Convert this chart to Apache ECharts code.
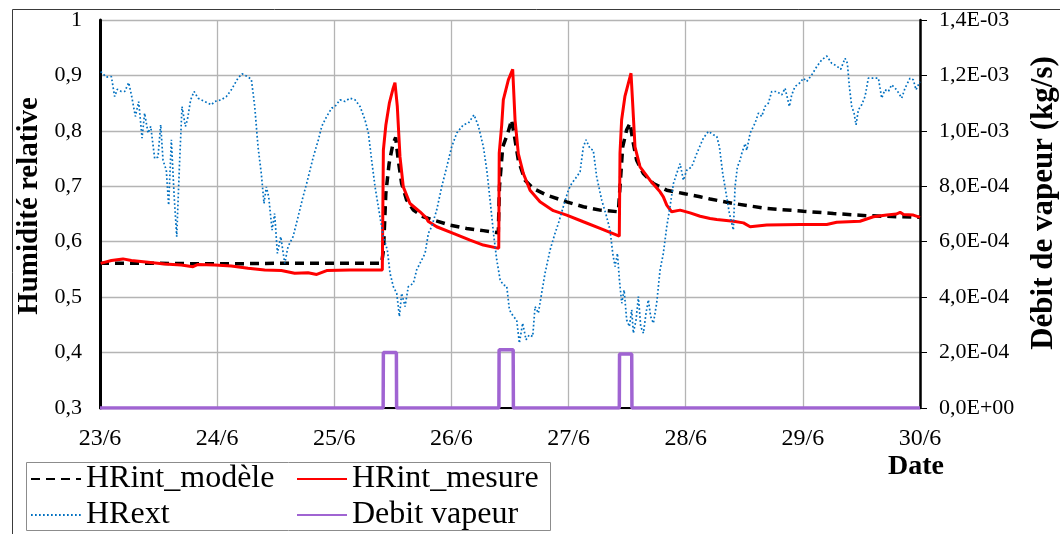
<!DOCTYPE html>
<html>
<head>
<meta charset="utf-8">
<script src="https://cdn.jsdelivr.net/npm/echarts@6/dist/echarts.min.js"></script>
<style>
html,body{margin:0;padding:0;background:#fff;}
#chart{width:1060px;height:534px;}
</style>
</head>
<body>
<div id="chart"></div>
<script>
// x values are days since 23/6 (0 = 23/6, 7 = 30/6)
const dayLabels = ['23/6','24/6','25/6','26/6','27/6','28/6','29/6','30/6'];
const seriesNames = ['HRint_modèle','HRint_mesure','HRext','Debit vapeur'];

const hrextDays = [0.006,0.054,0.097,0.125,0.148,0.182,0.211,0.245,0.268,0.302,0.330,0.359,0.381,0.410,0.433,0.467,0.495,0.518,0.538,0.566,0.586,0.609,0.632,0.655,0.680,0.700,0.729,0.746,0.774,0.803,0.837,0.894,0.951,0.979,1.036,1.079,1.121,1.178,1.213,1.250,1.292,1.321,1.349,1.377,1.400,1.420,1.440,1.469,1.491,1.514,1.543,1.577,1.605,1.648,1.691,1.733,1.764,1.821,1.864,1.893,1.935,1.978,2.006,2.049,2.091,2.134,2.177,2.220,2.262,2.291,2.319,2.348,2.390,2.419,2.453,2.476,2.504,2.533,2.556,2.575,2.604,2.632,2.675,2.703,2.746,2.775,2.803,2.831,2.874,2.917,2.960,3.002,3.045,3.102,3.145,3.193,3.231,3.273,3.302,3.330,3.359,3.387,3.416,3.443,3.472,3.495,3.529,3.557,3.580,3.608,3.637,3.665,3.694,3.714,3.742,3.770,3.799,3.842,3.884,3.913,3.955,3.998,4.026,4.069,4.098,4.126,4.149,4.183,4.211,4.240,4.283,4.325,4.354,4.377,4.397,4.417,4.434,4.454,4.474,4.496,4.519,4.539,4.553,4.576,4.596,4.616,4.639,4.661,4.681,4.701,4.724,4.752,4.781,4.809,4.838,4.866,4.895,4.923,4.952,4.980,5.009,5.051,5.094,5.151,5.194,5.236,5.265,5.288,5.316,5.345,5.373,5.407,5.421,5.441,5.464,5.478,5.507,5.521,5.550,5.592,5.621,5.649,5.677,5.706,5.734,5.777,5.820,5.848,5.885,5.905,5.933,5.971,6.005,6.033,6.076,6.119,6.161,6.204,6.246,6.289,6.323,6.360,6.380,6.397,6.417,6.437,6.454,6.474,6.502,6.531,6.559,6.602,6.645,6.673,6.701,6.730,6.758,6.801,6.844,6.872,6.915,6.943,6.966,6.986,7.0];
const hrextValues = [0.907,0.897,0.898,0.862,0.875,0.871,0.871,0.887,0.865,0.826,0.853,0.787,0.832,0.796,0.808,0.750,0.753,0.811,0.747,0.729,0.666,0.784,0.687,0.609,0.747,0.844,0.808,0.820,0.856,0.871,0.859,0.853,0.847,0.853,0.856,0.862,0.874,0.895,0.903,0.899,0.893,0.844,0.771,0.723,0.669,0.699,0.681,0.621,0.651,0.579,0.609,0.561,0.591,0.609,0.645,0.681,0.705,0.753,0.784,0.808,0.826,0.841,0.844,0.856,0.853,0.859,0.856,0.844,0.820,0.796,0.747,0.699,0.645,0.609,0.585,0.543,0.519,0.507,0.465,0.507,0.483,0.519,0.525,0.549,0.567,0.579,0.615,0.627,0.657,0.699,0.735,0.771,0.796,0.811,0.814,0.829,0.808,0.771,0.729,0.675,0.615,0.567,0.531,0.522,0.520,0.477,0.465,0.459,0.417,0.453,0.423,0.432,0.429,0.483,0.471,0.507,0.543,0.585,0.615,0.633,0.663,0.693,0.705,0.717,0.726,0.771,0.784,0.768,0.765,0.717,0.675,0.645,0.621,0.579,0.555,0.579,0.531,0.489,0.513,0.459,0.447,0.477,0.435,0.459,0.501,0.447,0.435,0.471,0.495,0.465,0.453,0.489,0.549,0.579,0.627,0.663,0.705,0.723,0.741,0.711,0.729,0.735,0.759,0.787,0.799,0.793,0.790,0.771,0.723,0.687,0.651,0.621,0.699,0.735,0.747,0.759,0.777,0.765,0.796,0.814,0.832,0.826,0.844,0.850,0.871,0.871,0.865,0.877,0.844,0.865,0.880,0.886,0.895,0.889,0.901,0.916,0.928,0.935,0.922,0.917,0.911,0.931,0.922,0.880,0.844,0.832,0.811,0.838,0.847,0.862,0.895,0.895,0.895,0.859,0.874,0.871,0.883,0.874,0.859,0.877,0.895,0.892,0.874,0.883,0.889];

const mesureDays = [0.006,0.097,0.196,0.268,0.410,0.552,0.694,0.794,0.837,0.979,1.121,1.264,1.406,1.548,1.662,1.776,1.850,1.935,2.134,2.410,2.419,2.440,2.470,2.500,2.518,2.538,2.561,2.589,2.646,2.732,2.789,2.800,2.874,3.016,3.159,3.272,3.404,3.408,3.429,3.443,3.486,3.523,3.543,3.571,3.614,3.671,3.756,3.870,3.984,4.126,4.269,4.433,4.439,4.453,4.481,4.533,4.547,4.567,4.610,4.695,4.781,4.809,4.838,4.880,4.952,5.037,5.123,5.208,5.265,5.407,5.493,5.550,5.692,5.977,6.204,6.289,6.488,6.602,6.716,6.800,6.830,6.860,6.943,7.0];
const mesureValues = [0.561,0.566,0.569,0.566,0.563,0.560,0.558,0.555,0.559,0.558,0.556,0.552,0.549,0.548,0.543,0.544,0.541,0.548,0.549,0.549,0.765,0.810,0.850,0.875,0.887,0.844,0.753,0.699,0.669,0.654,0.642,0.637,0.627,0.615,0.603,0.594,0.588,0.760,0.810,0.856,0.892,0.911,0.820,0.759,0.723,0.693,0.672,0.656,0.648,0.636,0.624,0.610,0.760,0.820,0.862,0.904,0.850,0.771,0.735,0.711,0.690,0.681,0.666,0.654,0.657,0.652,0.646,0.642,0.640,0.637,0.634,0.627,0.630,0.631,0.631,0.635,0.637,0.645,0.648,0.650,0.653,0.649,0.648,0.644];

const modeleDays = [0,0.5,1.0,1.5,2.0,2.404,2.420,2.440,2.468,2.501,2.524,2.546,2.575,2.618,2.675,2.760,2.846,2.988,3.130,3.272,3.400,3.410,3.438,3.480,3.514,3.543,3.571,3.628,3.699,3.813,3.984,4.126,4.269,4.425,4.439,4.462,4.496,4.525,4.547,4.581,4.638,4.724,4.838,4.980,5.123,5.208,5.407,5.692,6.005,6.261,6.545,6.830,7.0];
const modeleValues = [0.561,0.561,0.560,0.561,0.561,0.561,0.585,0.687,0.741,0.777,0.788,0.747,0.705,0.675,0.657,0.645,0.639,0.630,0.624,0.620,0.616,0.699,0.771,0.795,0.820,0.784,0.747,0.711,0.696,0.684,0.672,0.663,0.657,0.654,0.699,0.771,0.802,0.814,0.784,0.747,0.723,0.705,0.693,0.687,0.681,0.677,0.669,0.660,0.655,0.651,0.647,0.645,0.644];

const debitDays = [0,2.417,2.419,2.530,2.532,3.405,3.407,3.527,3.529,4.433,4.435,4.539,4.541,7.0];
const debitValues = [0,0,2.0e-4,2.0e-4,0,0,2.1e-4,2.1e-4,0,0,1.95e-4,1.95e-4,0,0];

function pairs(xs, ys){ return xs.map((x,i)=>[x, ys[i]]); }

const FONT = 'Liberation Serif';
const chart = echarts.init(document.getElementById('chart'), null, {renderer:'canvas'});

function sciLabel(v){
  let s = Number(v).toExponential(1);
  let parts = s.split('e');
  let m = parts[0].replace('.', ',');
  let e = parseInt(parts[1], 10);
  let sign = e < 0 ? '-' : '+';
  let ea = Math.abs(e);
  return m + 'E' + sign + (ea < 10 ? '0' + ea : '' + ea);
}

const option = {
  animation: false,
  backgroundColor: '#fff',
  graphic: [{
    type: 'rect',
    left: 10, top: 7,
    shape: {x: 0, y: 0, width: 1100, height: 600},
    style: {fill: 'none', stroke: '#3a3a3a', lineWidth: 1},
    silent: true, z: -10
  }, {
    // legend frame
    type: 'rect',
    left: 24, top: 460,
    shape: {x: 0, y: 0, width: 524, height: 68},
    style: {fill: 'none', stroke: '#8c8c8c', lineWidth: 1},
    silent: true, z: -5
  }],
  grid: {left: 100, right: 140, top: 20, bottom: 126, containLabel: false, outerBoundsMode: 'none'},
  legend: {
    left: 24, top: 460,
    orient: 'horizontal',
    width: 530,
    itemWidth: 50, itemHeight: 14, itemGap: 4,
    padding: [3, 0, 0, 6],
    borderWidth: 0,
    itemStyle: {opacity: 0},
    textStyle: {fontFamily: FONT, fontSize: 32, color: '#000', width: 206, lineHeight: 31},
    data: seriesNames
  },
  xAxis: {
    type: 'value', min: 0, max: 7, interval: 1,
    name: 'Date',
    nameLocation: 'end',
    nameGap: -4,
    nameTextStyle: {fontFamily: FONT, fontSize: 28, fontWeight: 'bold', color: '#000', align: 'center', verticalAlign: 'top', padding: [45, 0, 0, 0]},
    axisLine: {show: true, onZero: false, lineStyle: {color: '#000', width: 2}},
    axisTick: {show: false},
    axisLabel: {fontFamily: FONT, fontSize: 24, color: '#000', margin: 19,
      formatter: v => dayLabels[Math.round(v)]},
    splitLine: {show: true, lineStyle: {color: '#b4b4b4', width: 1.3}}
  },
  yAxis: [{
    type: 'value', min: 0.3, max: 1, interval: 0.1,
    position: 'left',
    name: 'Humidité relative',
    nameLocation: 'middle', nameRotate: 90, nameGap: 53,
    nameTextStyle: {fontFamily: FONT, fontSize: 29, fontWeight: 'bold', color: '#000', padding: [0, 0, 0, 16]},
    axisLine: {show: true, lineStyle: {color: '#000', width: 3}},
    axisTick: {show: false},
    axisLabel: {fontFamily: FONT, fontSize: 22, color: '#000', margin: 18,
      formatter: v => { let s = v.toFixed(1).replace('.', ','); return s === '1,0' ? '1' : s; }},
    splitLine: {show: true, lineStyle: {color: '#b4b4b4', width: 1.3}}
  }, {
    type: 'value', min: 0, max: 1.4e-3, interval: 2e-4,
    position: 'right',
    name: 'Débit de vapeur (kg/s)',
    nameLocation: 'middle', nameRotate: 90, nameGap: 108,
    nameTextStyle: {fontFamily: FONT, fontSize: 31, fontWeight: 'bold', color: '#000', padding: [0, 0, 0, 22]},
    axisLine: {show: true, lineStyle: {color: '#000', width: 2.5}},
    axisTick: {show: true, inside: false, length: 7, lineStyle: {color: '#000', width: 1}},
    axisLabel: {fontFamily: FONT, fontSize: 22, color: '#000', margin: 19, formatter: sciLabel},
    splitLine: {show: false}
  }],
  series: [{
    name: 'HRint_modèle', type: 'line', yAxisIndex: 0,
    data: pairs(modeleDays, modeleValues),
    symbol: 'none', smooth: false,
    lineStyle: {color: '#000', width: 3.5, type: [9, 6]},
    itemStyle: {color: '#000'}, z: 2
  }, {
    name: 'HRint_mesure', type: 'line', yAxisIndex: 0,
    data: pairs(mesureDays, mesureValues),
    symbol: 'none',
    lineStyle: {color: '#ff0000', width: 3},
    itemStyle: {color: '#ff0000'}, z: 3
  }, {
    name: 'HRext', type: 'line', yAxisIndex: 0,
    data: pairs(hrextDays, hrextValues),
    symbol: 'none',
    lineStyle: {color: '#0070c0', width: 1.7, type: [1.7, 2.3]},
    itemStyle: {color: '#0070c0'}, z: 4
  }, {
    name: 'Debit vapeur', type: 'line', yAxisIndex: 1,
    data: pairs(debitDays, debitValues),
    symbol: 'none',
    lineStyle: {color: '#a064d2', width: 3.5},
    itemStyle: {color: '#a064d2'}, z: 5
  }]
};
chart.setOption(option);
</script>
</body>
</html>
